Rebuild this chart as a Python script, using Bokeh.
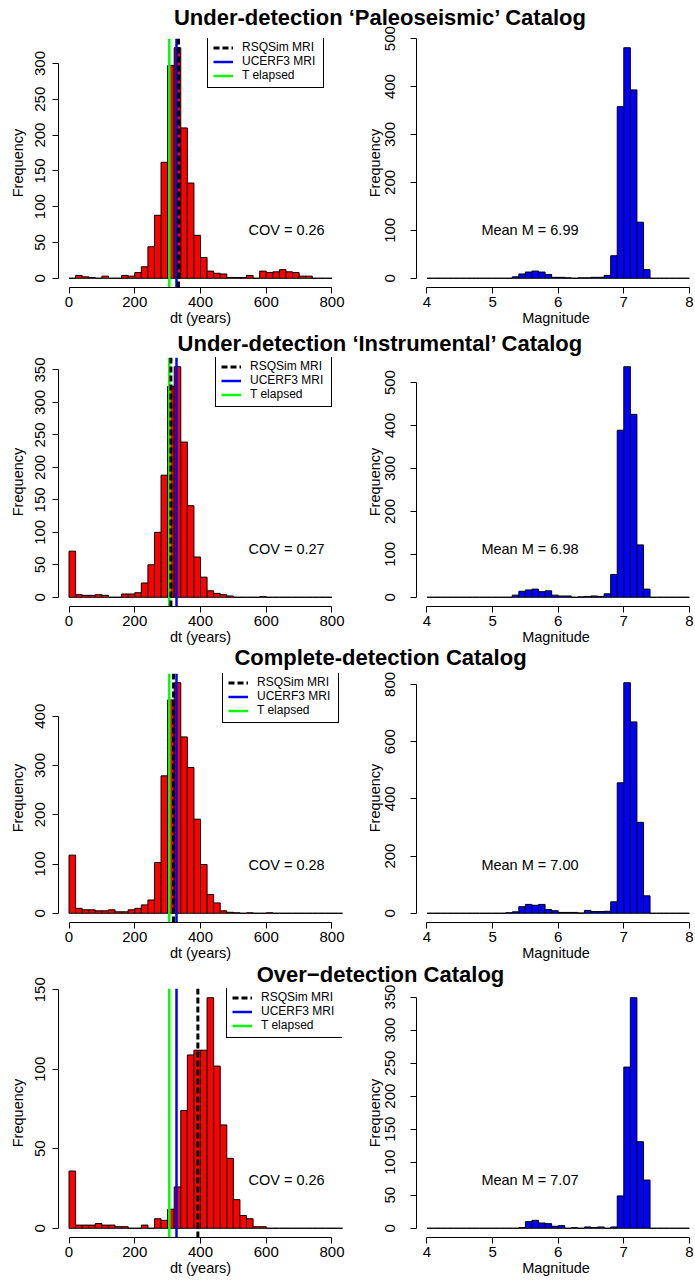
import numpy as np
from bokeh.plotting import figure
from bokeh.layouts import column, row
from bokeh.models import Range1d, FixedTicker, Legend, LegendItem, Label
from bokeh.embed import file_html
from bokeh.resources import INLINE

# ---------------- data ----------------
titles = ["Under-detection \u2018Paleoseismic\u2019 Catalog",
          "Under-detection \u2018Instrumental\u2019 Catalog",
          "Complete-detection Catalog",
          "Over\u2212detection Catalog"]

dt_bin_start = 0
dt_bin_width = 20
dt_counts_paleo = [0, 4, 2, 1, 0, 3, 0, 0, 4, 3, 8, 16, 44, 88, 162, 297, 322, 210, 133, 60,
                   29, 10, 7, 6, 1, 1, 1, 4, 0, 10, 8, 9, 12, 9, 8, 3, 3, 0, 0, 0]
dt_counts_instr = [71, 4, 3, 3, 4, 3, 0, 0, 5, 5, 7, 22, 50, 100, 188, 325, 355, 239, 141, 62,
                   31, 10, 6, 4, 2, 0, 0, 0, 0, 1, 0, 0, 0, 0, 0, 0, 0, 0, 0, 0]
dt_counts_complete = [118, 10, 7, 7, 5, 5, 7, 3, 3, 7, 10, 17, 27, 103, 279, 433, 468, 358, 296, 191,
                      99, 38, 21, 5, 2, 1, 0, 1, 0, 0, 1, 0, 0, 0, 0, 0, 0, 0, 0, 0, 0, 0]
dt_counts_over = [36, 2, 2, 2, 3, 2, 2, 1, 1, 0, 0, 2, 0, 6, 5, 12, 26, 74, 109, 112,
                  112, 145, 102, 65, 44, 18, 8, 6, 1, 1, 0, 0, 0, 0, 0, 0, 0, 0, 0, 0, 0, 0]

mag_bin_start = 4.0
mag_bin_width = 0.1
mag_counts_paleo = [0] * 13 + [3, 9, 13, 15, 13, 8, 2, 2, 1, 0, 1, 1, 2, 2, 6, 47, 358, 481, 393, 117, 18] + [0] * 6
mag_counts_instr = [0] * 13 + [5, 14, 17, 19, 13, 15, 5, 3, 3, 0, 1, 2, 3, 2, 8, 53, 389, 537, 426, 122, 19] + [0] * 6
mag_counts_complete = [0] * 12 + [2, 5, 23, 31, 28, 31, 13, 9, 3, 3, 3, 1, 10, 6, 6, 7, 40, 456, 806, 669, 318, 61] + [0] * 6
mag_counts_over = [0] * 14 + [1, 10, 12, 8, 7, 3, 4, 0, 1, 0, 2, 1, 2, 0, 2, 49, 244, 349, 131, 73] + [0] * 6

rsqsim_mri = [333, 310, 318, 392]
ucerf3_mri = 327
t_elapsed = 305
cov_text = ["0.26", "0.27", "0.28", "0.26"]
mean_m_text = ["6.99", "6.98", "7.00", "7.07"]

dt_xticks = [0, 200, 400, 600, 800]
mag_xticks = [4, 5, 6, 7, 8]
dt_yticks = [[0, 50, 100, 150, 200, 250, 300],
             [0, 50, 100, 150, 200, 250, 300, 350],
             [0, 100, 200, 300, 400],
             [0, 50, 100, 150]]
mag_yticks = [[0, 100, 200, 300, 400, 500],
              [0, 100, 200, 300, 400, 500],
              [0, 200, 400, 600, 800],
              [0, 50, 100, 150, 200, 250, 300, 350]]

legend_labels = ["RSQSim MRI", "UCERF3 MRI", "T elapsed"]

dt_sets = [dt_counts_paleo, dt_counts_instr, dt_counts_complete, dt_counts_over]
mag_sets = [mag_counts_paleo, mag_counts_instr, mag_counts_complete, mag_counts_over]

# ---------------- layout / style ----------------
FONT = "Liberation Sans"
FRAME_H = 249
BOTTOM = 43
TOPS = [38, 27, 24, 23]            # space above each row's frames
TITLE_MID = [17, 13.3, 8.2, 8.7]   # title cap-centre within each row block
TITLE_UP = [0, 12, 12, 12]         # how far each title strip reaches up into the row above
TITLE_H = 44
TITLE_X = 380
LEG_X = [149, 157, 164, 168]       # legend left offset inside left frame
LEG_H = 50
LEFT_W, RIGHT_W = 356, 339
LEFT_MB = (58, 14)
RIGHT_MB = (60, 0)
COV_X = 668
MEANM_X = 5.6
TXT_FRAC = 0.208


def style_axes(p, xticks, xbounds, yticks, xlabel, ylab_standoff, yaxlab_standoff):
    p.xaxis.ticker = FixedTicker(ticks=xticks)
    p.yaxis.ticker = FixedTicker(ticks=yticks)
    p.xaxis.bounds = xbounds
    p.yaxis.bounds = (yticks[0], yticks[-1])
    for ax in (p.xaxis[0], p.yaxis[0]):
        ax.axis_line_color = "black"
        ax.axis_line_width = 1
        ax.major_tick_line_color = "black"
        ax.major_tick_out = 6
        ax.major_tick_in = 0
        ax.minor_tick_line_color = None
        ax.major_label_text_font = FONT
        ax.major_label_text_font_size = "15px"
        ax.major_label_text_color = "black"
        ax.axis_label_text_font = FONT
        ax.axis_label_text_font_size = "14.5px"
        ax.axis_label_text_font_style = "normal"
        ax.axis_label_text_color = "black"
    p.xaxis.major_label_standoff = 3
    p.xaxis.axis_label_standoff = 0
    p.yaxis.major_label_standoff = ylab_standoff
    p.yaxis.axis_label_standoff = yaxlab_standoff
    p.yaxis.major_label_orientation = "vertical"
    p.xaxis.axis_label = xlabel
    p.yaxis.axis_label = "Frequency"


def make_panel(counts, start, width, color, xr, yticks, xticks, xbounds, xlabel,
               fig_w, mb, top, ylab_standoff, yaxlab_standoff):
    counts = np.asarray(counts, dtype=float)
    edges = start + width * np.arange(len(counts) + 1)
    m = counts.max()
    p = figure(width=fig_w, height=top + FRAME_H + BOTTOM,
               x_range=Range1d(*xr), y_range=Range1d(-0.04 * m, 1.04 * m),
               output_backend="svg", toolbar_location=None,
               min_border_left=mb[0], min_border_right=mb[1],
               min_border_top=top, min_border_bottom=BOTTOM,
               outline_line_color=None, border_fill_color=None,
               background_fill_color=None)
    p.grid.visible = False
    p.quad(left=edges[:-1], right=edges[1:], bottom=0, top=counts,
           fill_color=color, line_color="black", line_width=1)
    style_axes(p, xticks, xbounds, yticks, xlabel, ylab_standoff, yaxlab_standoff)
    return p, m


layout_children = []
for i in range(4):
    # title strip (transparent, overlapping the neighbouring rows)
    up = TITLE_UP[i]
    t = figure(width=695, height=TITLE_H, x_range=Range1d(0, 695),
               y_range=Range1d(TITLE_H, 0),
               output_backend="svg", toolbar_location=None, min_border=0,
               x_axis_type=None, y_axis_type=None,
               outline_line_color=None, border_fill_color=None,
               background_fill_color=None, margin=(-up, 0, -(TITLE_H - up), 0))
    t.grid.visible = False
    t.add_layout(Label(x=TITLE_X, y=TITLE_MID[i] + up, text=titles[i], text_align="center",
                       text_baseline="middle", text_font=FONT,
                       text_font_size="22px", text_font_style="bold", text_color="black"))

    dt_counts = dt_sets[i]
    pl, ml = make_panel(dt_counts, dt_bin_start, dt_bin_width, "#FF0000", (-32, 832),
                        dt_yticks[i], dt_xticks, (0, 800), "dt (years)",
                        LEFT_W, LEFT_MB, TOPS[i], 7, 7)
    y0, y1 = pl.y_range.start, pl.y_range.end
    r3 = pl.segment(x0=[t_elapsed], y0=[y0], x1=[t_elapsed], y1=[y1],
                    line_color="#00FF00", line_width=2.5)
    r2 = pl.segment(x0=[ucerf3_mri], y0=[y0], x1=[ucerf3_mri], y1=[y1],
                    line_color="#0000FF", line_width=2.5)
    r1 = pl.segment(x0=[rsqsim_mri[i]], y0=[y0], x1=[rsqsim_mri[i]], y1=[y1],
                    line_color="black", line_width=3, line_dash="6 3")
    leg = Legend(items=[LegendItem(label=legend_labels[0], renderers=[r1]),
                        LegendItem(label=legend_labels[1], renderers=[r2]),
                        LegendItem(label=legend_labels[2], renderers=[r3])],
                 location=(LEG_X[i], FRAME_H - LEG_H), padding=5, spacing=0,
                 glyph_width=20, glyph_height=13, label_height=13, label_width=76,
                 label_standoff=9, border_line_color="black", border_line_width=1,
                 border_line_alpha=1.0,
                 background_fill_color="white", background_fill_alpha=1.0,
                 label_text_font=FONT, label_text_font_size="12px",
                 label_text_color="black", margin=0)
    pl.add_layout(leg)
    pl.add_layout(Label(x=COV_X, y=TXT_FRAC * ml, text="COV =  " + cov_text[i],
                        text_align="center", text_baseline="middle", text_font=FONT,
                        text_font_size="14.5px", text_color="black"))

    mag_counts = mag_sets[i]
    px_per_unit = 65.6
    rx0 = 4 - 0.04 * 4
    pr, mr = make_panel(mag_counts, mag_bin_start, mag_bin_width, "#0000FF",
                        (rx0, rx0 + (RIGHT_W - RIGHT_MB[0]) / px_per_unit),
                        mag_yticks[i], mag_xticks, (4, 8), "Magnitude",
                        RIGHT_W, RIGHT_MB, TOPS[i], 15, 0)
    pr.add_layout(Label(x=MEANM_X, y=TXT_FRAC * mr, text="Mean M =  " + mean_m_text[i],
                        text_align="center", text_baseline="middle", text_font=FONT,
                        text_font_size="14.5px", text_color="black"))

    layout_children.append(t)
    layout_children.append(row(pl, pr))

page = column(*layout_children)
open("out.html", "w").write(file_html(page, INLINE))
